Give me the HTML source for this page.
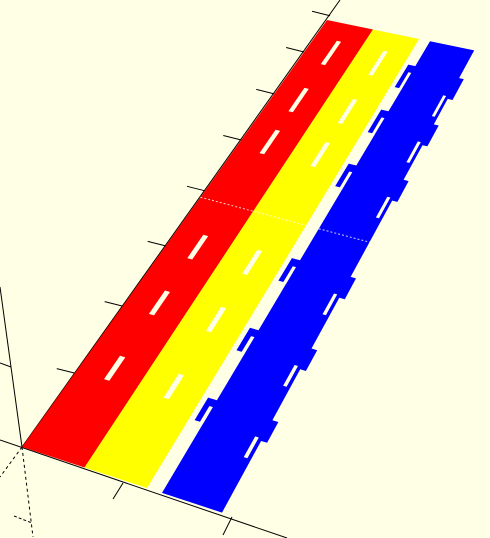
<!DOCTYPE html>
<html><head><meta charset="utf-8"><style>
html,body{margin:0;padding:0;background:#ffffe5;overflow:hidden;width:490px;height:538px;}
svg{display:block;}
</style></head><body>
<svg id="scene" width="490" height="538" viewBox="0 0 490 538">
<rect width="490" height="538" fill="#ffffe5"/>
<g id="axes"></g>
<g id="strips"></g>
</svg>
<script>
// along-strip parameters (0..1) of slot centres, tabs, ticks, seam
const slotTs = [0.935, 0.826, 0.729, 0.486, 0.357, 0.206];
const tabTs = [0.895, 0.795, 0.675, 0.465, 0.31, 0.155];
const tickTs = [1.01, 0.925, 0.827, 0.719, 0.6, 0.471, 0.33, 0.173];
const seamT = 0.585;
const stripNames = ['red-strip','yellow-strip'];
const stripColors = ['#ff0000','#ffff00'];
const stripStarts = [0, 1];
const blueS0 = 2.24, blueS1 = 3.2;

const NS='http://www.w3.org/2000/svg';
function P(s,t){return [22+305*t+s*(62.5-16.5*t), 447-427*t+s*(20.5-11*t)];}
function quad(s0,s1,t0,t1){return [P(s0,t0),P(s1,t0),P(s1,t1),P(s0,t1)];}
function pts(a){return a.map(p=>p[0].toFixed(1)+','+p[1].toFixed(1)).join(' ');}
function mk(tag,attrs,parent){const e=document.createElementNS(NS,tag);for(const k in attrs)e.setAttribute(k,attrs[k]);parent.appendChild(e);return e;}
const axes=document.getElementById('axes'), strips=document.getElementById('strips');

let l;
l=mk('line',{x1:0,y1:440,x2:287,y2:538,stroke:'#000','stroke-width':1},axes);


l=mk('line',{x1:22,y1:447,x2:340,y2:0,stroke:'#000','stroke-width':1},axes);


l=mk('line',{x1:0,y1:287,x2:22,y2:447,stroke:'#000','stroke-width':1},axes);


l=mk('line',{x1:22,y1:447,x2:33,y2:537,stroke:'#000','stroke-width':1,'stroke-dasharray':'3,3'},axes);


l=mk('line',{x1:22,y1:447,x2:0,y2:477,stroke:'#000','stroke-width':1,'stroke-dasharray':'3,3'},axes);


l=mk('line',{x1:0,y1:363,x2:11,y2:367,stroke:'#000','stroke-width':1},axes);


l=mk('line',{x1:123,y1:483,x2:113,y2:499,stroke:'#000','stroke-width':1},axes);


l=mk('line',{x1:232,y1:517,x2:223,y2:535,stroke:'#000','stroke-width':1},axes);


l=mk('line',{x1:14,y1:516,x2:32,y2:523,stroke:'#000','stroke-width':1,'stroke-dasharray':'3,2'},axes);


tickTs.forEach(t=>{const p=P(0,t);
  const e=mk('line',{x1:p[0],y1:p[1],x2:p[0]-18,y2:p[1]-4.5,stroke:'#000','stroke-width':1},axes);
  
  
});

stripStarts.forEach((s,i)=>{
  const e=mk('polygon',{points:pts(quad(s,s+1,0,1)),fill:stripColors[i]},strips);
  
  
  slotTs.forEach(t=>{
    const d=mk('polygon',{points:pts(quad(s+0.46,s+0.55,t-0.027,t+0.027)),fill:'#ffffe5'},strips);
    
    
  });
});

const bp=[];
bp.push(P(blueS0,0),P(blueS1,0));
[...tabTs].reverse().forEach(t=>{
  bp.push(P(blueS1,t),P(blueS1+0.1,t),P(blueS1+0.1,t+0.045),P(blueS1,t+0.045));
});
bp.push(P(blueS1,1),P(blueS0,1));
tabTs.forEach(t=>{
  bp.push(P(blueS0,t+0.05),P(blueS0-0.15,t+0.05),P(blueS0-0.15,t),P(blueS0,t));
});
const blue=mk('polygon',{points:pts(bp),fill:'#0000ff'},strips);


tabTs.forEach(t=>{
  let d=mk('polygon',{points:pts(quad(blueS0-0.06,blueS0,t-0.001,t+0.035)),fill:'#ffffe5'},strips);
  
  
  d=mk('polygon',{points:pts(quad(blueS1-0.12,blueS1-0.06,t-0.04,t+0.005)),fill:'#ffffe5'},strips);
  
  
});

let a=P(0,seamT), b=P(2,seamT);
let sm=mk('line',{x1:a[0],y1:a[1],x2:b[0],y2:b[1],stroke:'#ffffff','stroke-width':1,'stroke-dasharray':'2,2',opacity:0.8},strips);


a=P(blueS0,seamT); b=P(blueS1,seamT);
sm=mk('line',{x1:a[0],y1:a[1],x2:b[0],y2:b[1],stroke:'#ffffff','stroke-width':1,'stroke-dasharray':'2,2',opacity:0.8},strips);


</script>
</body></html>
